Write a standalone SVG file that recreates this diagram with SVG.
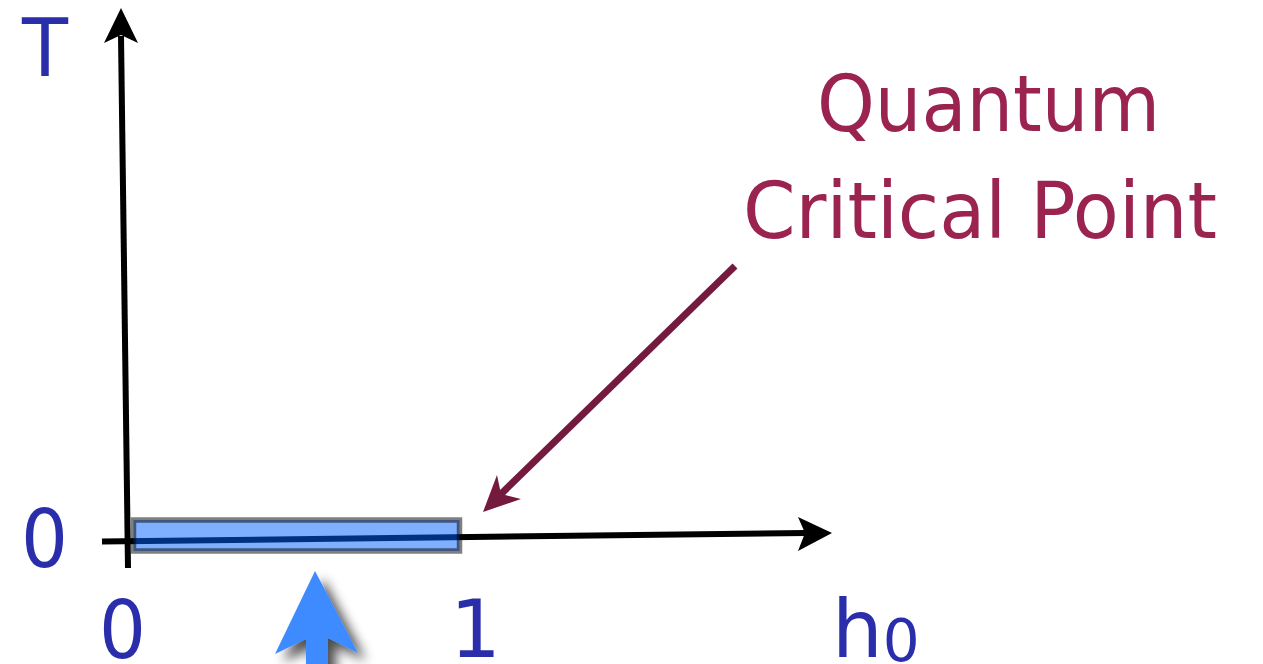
<svg xmlns="http://www.w3.org/2000/svg" width="1263" height="664" viewBox="0 0 1263 664">
<style>
.lbl{font-family:"DejaVu Sans","Liberation Sans",sans-serif;fill:#2a2eab;font-size:80px}
.qcp{font-family:"DejaVu Sans","Liberation Sans",sans-serif;fill:#9a2350;font-size:78px}
.axis{stroke:#000;stroke-width:6;fill:none}
</style>
<defs>
<filter id="sh" x="-50%" y="-50%" width="200%" height="200%">
<feGaussianBlur in="SourceAlpha" stdDeviation="6"/>
<feOffset dx="8" dy="8" result="b"/>
<feComponentTransfer><feFuncA type="linear" slope="0.7"/></feComponentTransfer>
<feMerge><feMergeNode/><feMergeNode in="SourceGraphic"/></feMerge>
</filter>
</defs>
<rect width="1263" height="664" fill="#fff"/>
<g id="connectors">
<line class="axis" x1="128" y1="568" x2="121" y2="36"/>
<path d="M121,8 L138,43 L121,35 L104,43 Z" fill="#000"/>
<line class="axis" x1="102" y1="541.5" x2="806" y2="533"/>
<path d="M832,533 L798,551 L805,533 L798,517 Z" fill="#000"/>
<line x1="735" y1="266" x2="500" y2="495" stroke="#741a3e" stroke-width="7"/>
<path d="M483,512 L497,475 L501,494 L521,499 Z" fill="#741a3e"/>
</g>
<g id="range">
<rect x="133.5" y="520" width="326" height="31" fill="#0060ff" fill-opacity="0.5" stroke="#000" stroke-opacity="0.5" stroke-width="5.5"/>
</g>
<g id="pointer" filter="url(#sh)">
<path d="M315,571 L358,653 L328,638 L328,670 L306,670 L306,639 L275,654 Z" fill="#3d8bff"/>
</g>
<g id="label-T"><text class="lbl" x="22" y="76" textLength="46" lengthAdjust="spacingAndGlyphs">T</text></g>
<g id="label-0y"><text class="lbl" x="21" y="567" textLength="47" lengthAdjust="spacingAndGlyphs">0</text></g>
<g id="label-0x"><text class="lbl" x="99" y="658" textLength="47" lengthAdjust="spacingAndGlyphs">0</text></g>
<g id="label-1"><text class="lbl" x="450" y="657">1</text></g>
<g id="label-h0"><text class="lbl" x="832" y="657">h<tspan font-size="58" dy="4">0</tspan></text></g>
<g id="qcp-label">
<text class="qcp" x="817" y="131" textLength="343" lengthAdjust="spacingAndGlyphs">Quantum</text>
<text class="qcp" x="743" y="238" textLength="474" lengthAdjust="spacingAndGlyphs">Critical Point</text>
</g>
</svg>
